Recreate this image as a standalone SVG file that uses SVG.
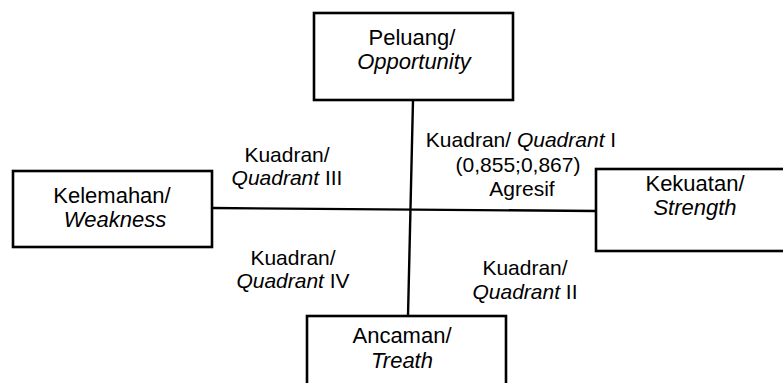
<svg xmlns="http://www.w3.org/2000/svg" width="783" height="383" viewBox="0 0 783 383">
<style>
.box{fill:#fff;stroke:#000;stroke-width:2.6}
.ln{fill:none;stroke:#000;stroke-width:2.4}
text{font-family:"Liberation Sans",Arial,sans-serif;font-size:21px;fill:#000;text-anchor:middle}
.n{font-size:22px}
.i{font-style:italic}
</style>
<rect width="783" height="383" fill="#fff"/>
<g id="connectors">
<line class="ln" x1="413" y1="100" x2="408" y2="316"/>
<line class="ln" x1="212" y1="208" x2="596" y2="211"/>
</g>
<g id="peluang">
<rect class="box" x="314" y="13" width="199" height="87"/>
<text class="n" x="412" y="45">Peluang/</text>
<text class="n i" x="414" y="69">Opportunity</text>
</g>
<g id="kelemahan">
<rect class="box" x="13" y="171" width="199" height="76"/>
<text class="n" x="112" y="203">Kelemahan/</text>
<text class="n i" x="115" y="227">Weakness</text>
</g>
<g id="kekuatan">
<rect class="box" x="596" y="169" width="200" height="82"/>
<text class="n" x="695" y="191">Kekuatan/</text>
<text class="n i" x="695" y="215">Strength</text>
</g>
<g id="ancaman">
<rect class="box" x="307" y="316" width="199" height="80"/>
<text class="n" x="402" y="343">Ancaman/</text>
<text class="n i" x="402" y="368">Treath</text>
</g>
<g id="labels">
<text x="521" y="147">Kuadran/ <tspan class="i">Quadrant</tspan> I</text>
<text x="518" y="172">(0,855;0,867)</text>
<text x="522" y="196">Agresif</text>
<text x="287" y="162">Kuadran/</text>
<text x="287" y="185"><tspan class="i">Quadrant</tspan> III</text>
<text x="293" y="265">Kuadran/</text>
<text x="293" y="288"><tspan class="i">Quadrant</tspan> IV</text>
<text x="525" y="275">Kuadran/</text>
<text x="525" y="299"><tspan class="i">Quadrant</tspan> II</text>
</g>
</svg>
